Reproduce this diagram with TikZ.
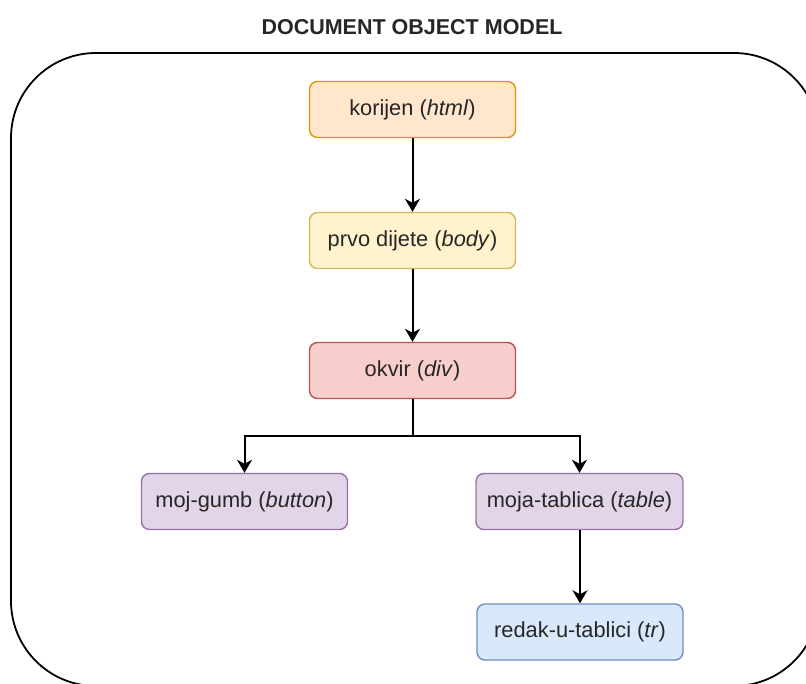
\documentclass[tikz,border=0pt]{standalone}
\usepackage{fontspec}
\setmainfont{Liberation Sans}
\usetikzlibrary{arrows.meta}
\definecolor{txt}{HTML}{262626}
\tikzset{
  box/.style={draw, line width=1.4pt, rounded corners=8pt, minimum width=206pt, minimum height=56pt,
    inner sep=0pt, text=txt, font=\fontsize{21.8}{26}\selectfont},
  orangebox/.style={box, fill=orange0, draw=orange1},
  yellowbox/.style={box, fill=yellow0, draw=yellow1},
  redbox/.style={box, fill=red0, draw=red1},
  purplebox/.style={box, fill=purple0, draw=purple1},
  bluebox/.style={box, fill=blue0, draw=blue1},
  arr/.style={draw=black, line width=2pt, -{Stealth[length=13pt,width=15pt,inset=4pt]}},
  frame/.style={draw=black, line width=1.8pt, rounded corners=85pt},
}
\definecolor{orange0}{HTML}{FFE6CC}\definecolor{orange1}{HTML}{D79B00}
\definecolor{yellow0}{HTML}{FFF2CC}\definecolor{yellow1}{HTML}{D6B656}
\definecolor{red0}{HTML}{F8CECC}\definecolor{red1}{HTML}{B85450}
\definecolor{purple0}{HTML}{E1D5E7}\definecolor{purple1}{HTML}{9673A6}
\definecolor{blue0}{HTML}{DAE8FC}\definecolor{blue1}{HTML}{6C8EBF}
\begin{document}
\begin{tikzpicture}[x=1pt,y=-1pt]
\useasboundingbox (0,0) rectangle (806,684);
\begin{scope}
\clip (0,0) rectangle (806,684);
\draw[frame] (11,53) rectangle (819,686);
\end{scope}
\node[text=txt, font=\bfseries\fontsize{21.5}{26}\selectfont] (title) at (412,27) {DOCUMENT OBJECT MODEL};
\node[orangebox] (root) at (412.5,109.5) {korijen (\textit{html})};
\node[yellowbox] (body) at (412.5,240.5) {prvo dijete (\textit{body})};
\node[redbox] (div) at (412.5,370.5) {okvir (\textit{div})};
\node[purplebox] (btn) at (244.5,501.5) {moj-gumb (\textit{button})};
\node[purplebox, minimum width=207pt] (tbl) at (579.5,501.5) {moja-tablica (\textit{table})};
\node[bluebox] (tr) at (580,632) {redak-u-tablici (\textit{tr})};
\coordinate (split) at (412.5,436);
\draw[arr] (root) -- (body);
\draw[arr] (body) -- (div);
\draw[arr] (div.south) -- (split) -| (btn.north);
\draw[arr] (div.south) -- (split) -| (tbl.north);
\draw[arr] (tbl.south -| tr.north) -- (tr.north);
\end{tikzpicture}
\end{document}
